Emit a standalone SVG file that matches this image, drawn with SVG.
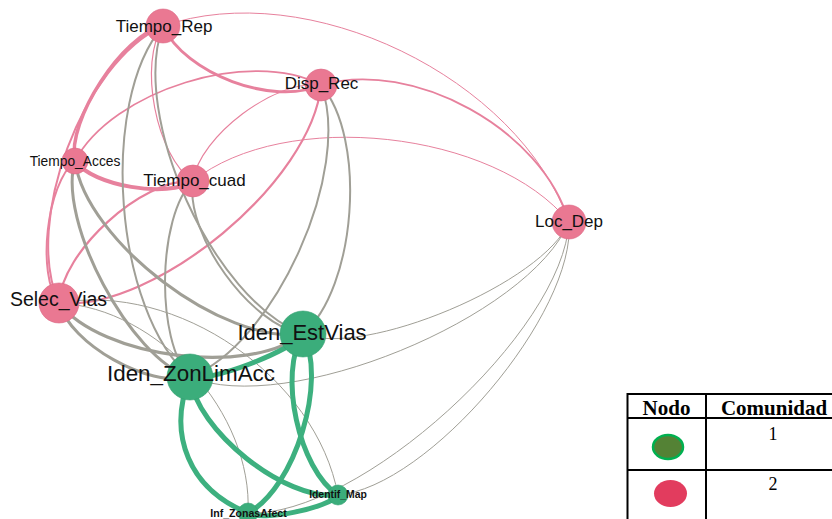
<svg xmlns="http://www.w3.org/2000/svg" width="832" height="519" viewBox="0 0 832 519">
  <style>
    .e { fill: none; stroke-linecap: round; }
    .ep { stroke: #E7819D; }
    .eg { stroke: #A09F96; }
    .eq { stroke: #3DB07F; }
    .np { fill: #EA7892; stroke: #DC6A86; stroke-width: 0.6; }
    .nq { fill: #3BAD7B; stroke: #33A070; stroke-width: 0.6; }
    .lbl { font-family: "Liberation Sans", Arial, sans-serif; fill: #111; text-anchor: middle; }
    .tb { fill: none; stroke: #000; stroke-width: 2; }
    .th { font-family: "Liberation Serif", "Times New Roman", serif; font-weight: bold; font-size: 21px; fill: #000; text-anchor: middle; }
    .td { font-family: "Liberation Serif", "Times New Roman", serif; font-size: 18px; fill: #000; text-anchor: middle; }
  </style>

  <rect width="832" height="519" fill="#ffffff"/>

  <!-- connectors: curved edges, drawn below the nodes -->
  <g id="edges">
    <!-- community 2 internal (pink) -->
    <path class="e ep" stroke-width="1" d="M163,26 C307.5,-24.4 518.6,77.5 569,222"/>
    <path class="e ep" stroke-width="1.8" d="M321,85 C413.4,58.4 542.4,129.6 569,222"/>
    <path class="e ep" stroke-width="1" d="M193,181 C284.7,107.3 495.3,130.3 569,222"/>
    <path class="e ep" stroke-width="3" d="M163,26 C184.8,73.7 273.3,106.8 321,85"/>
    <path class="e ep" stroke-width="1.6" d="M75,161 C112.4,90.2 250.2,47.6 321,85"/>
    <path class="e ep" stroke-width="1.2" d="M163,26 C138,63 156,156 193,181"/>
    <path class="e ep" stroke-width="3.5" d="M163,26 C122.9,34.5 66.5,120.9 75,161"/>
    <path class="e ep" stroke-width="2" d="M163,26 C83,62.3 22.7,223 59,303"/>
    <path class="e ep" stroke-width="2" d="M75,161 C46.6,183.7 36.3,274.6 59,303"/>
    <path class="e ep" stroke-width="1.2" d="M321,85 C276.2,78.6 199.4,136.2 193,181"/>
    <path class="e ep" stroke-width="4" d="M75,161 C92.6,185.8 168.2,198.6 193,181"/>
    <path class="e ep" stroke-width="2.2" d="M193,181 C141.8,178.6 61.4,251.8 59,303"/>
    <path class="e ep" stroke-width="2.2" d="M321,85 C312.2,181 155,311.8 59,303"/>

    <!-- between communities (gray) -->
    <path class="e eg" stroke-width="2" d="M163,26 C98.2,101.6 114.4,312.2 190,377"/>
    <path class="e eg" stroke-width="2" d="M163,26 C129.4,115.6 213.4,300.4 303,334"/>
    <path class="e eg" stroke-width="3" d="M75,161 C56.8,220.6 130.4,358.8 190,377"/>
    <path class="e eg" stroke-width="3" d="M75,161 C86,241.2 222.8,345 303,334"/>
    <path class="e eg" stroke-width="2" d="M193,181 C157.2,215.7 155.3,341.2 190,377"/>
    <path class="e eg" stroke-width="2" d="M193,181 C184.4,233.6 250.4,325.4 303,334"/>
    <path class="e eg" stroke-width="2" d="M321,85 C353.2,169.6 274.6,344.8 190,377"/>
    <path class="e eg" stroke-width="2" d="M321,85 C367.2,138.4 356.4,287.8 303,334"/>
    <path class="e eg" stroke-width="3" d="M59,303 C70.4,344 149,388.4 190,377"/>
    <path class="e eg" stroke-width="3.2" d="M59,303 C101.6,358 248,376.6 303,334"/>
    <path class="e eg" stroke-width="1" d="M59,303 C176.75,281.25 316.25,377.25 338,495"/>
    <path class="e eg" stroke-width="1" d="M59,303 C158.75,308.25 253.25,413.25 248,513"/>
    <path class="e eg" stroke-width="1" d="M569,222 C544.4,282.5 363.5,358.6 303,334"/>
    <path class="e eg" stroke-width="1" d="M569,222 C528.7,318.1 286.1,417.3 190,377"/>
    <path class="e eg" stroke-width="1" d="M569,222 C576.6,312.7 428.7,487.4 338,495"/>
    <path class="e eg" stroke-width="1" d="M569,222 C563.6,332.2 358.2,518.4 248,513"/>

    <!-- community 1 internal (green) -->
    <path class="e eq" stroke-width="5" d="M190,377 C205.6,384 296,349.6 303,334"/>
    <path class="e eq" stroke-width="5" d="M190,377 C166.6,435.2 189.8,489.6 248,513"/>
    <path class="e eq" stroke-width="5" d="M190,377 C196,430.2 284.8,501 338,495"/>
    <path class="e eq" stroke-width="5" d="M303,334 C327.8,380.8 294.8,488.2 248,513"/>
    <path class="e eq" stroke-width="5" d="M303,334 C277.8,373.2 298.8,469.8 338,495"/>
    <path class="e eq" stroke-width="5" d="M248,513 C261,521.6 329.4,508 338,495"/>
  </g>

  <!-- nodes -->
  <g id="node-tiempo-rep"><circle class="np" cx="163" cy="26" r="17"/></g>
  <g id="node-disp-rec"><circle class="np" cx="321" cy="85" r="16"/></g>
  <g id="node-tiempo-acces"><circle class="np" cx="75" cy="161" r="13"/></g>
  <g id="node-tiempo-cuad"><circle class="np" cx="193" cy="181" r="16"/></g>
  <g id="node-loc-dep"><circle class="np" cx="569" cy="222" r="17"/></g>
  <g id="node-selec-vias"><circle class="np" cx="59" cy="303" r="20"/></g>
  <g id="node-iden-estvias"><circle class="nq" cx="303" cy="334" r="23"/></g>
  <g id="node-iden-zonlimacc"><circle class="nq" cx="190" cy="377" r="23"/></g>
  <g id="node-identif-map"><circle class="nq" cx="338" cy="495" r="10"/></g>
  <g id="node-inf-zonasafect"><circle class="nq" cx="248" cy="513" r="10"/></g>

  <!-- node labels, drawn on top -->
  <g id="labels">
    <text class="lbl" x="164" y="32" font-size="17">Tiempo_Rep</text>
    <text class="lbl" x="321.5" y="89" font-size="17">Disp_Rec</text>
    <text class="lbl" x="75" y="166" font-size="13.8">Tiempo_Acces</text>
    <text class="lbl" x="194.5" y="186" font-size="17">Tiempo_cuad</text>
    <text class="lbl" x="569" y="227" font-size="17">Loc_Dep</text>
    <text class="lbl" x="58.5" y="306" font-size="19.5">Selec_Vias</text>
    <text class="lbl" x="302" y="340" font-size="22">Iden_EstVias</text>
    <text class="lbl" x="191" y="381" font-size="22.4">Iden_ZonLimAcc</text>
    <text class="lbl" x="338" y="498" font-size="10.4" font-weight="bold">Identif_Map</text>
    <text class="lbl" x="248.5" y="517" font-size="10.6" font-weight="bold">Inf_ZonasAfect</text>
  </g>

  <!-- community legend table -->
  <g id="legend">
    <rect class="tb" x="627.5" y="394" width="216" height="130"/>
    <line class="tb" x1="706" y1="394" x2="706" y2="524"/>
    <line class="tb" x1="627.5" y1="418" x2="843.5" y2="418"/>
    <line class="tb" x1="627.5" y1="470" x2="843.5" y2="470"/>
    <text class="th" x="666.5" y="414.5">Nodo</text>
    <text class="th" x="774" y="414.5">Comunidad</text>
    <ellipse cx="668" cy="447" rx="15" ry="12" fill="#548235" stroke="#00B050" stroke-width="2.5"/>
    <text class="td" x="773" y="440">1</text>
    <ellipse cx="670.5" cy="493.5" rx="16.5" ry="13.5" fill="#E23C5E"/>
    <text class="td" x="773" y="490">2</text>
  </g>
</svg>
